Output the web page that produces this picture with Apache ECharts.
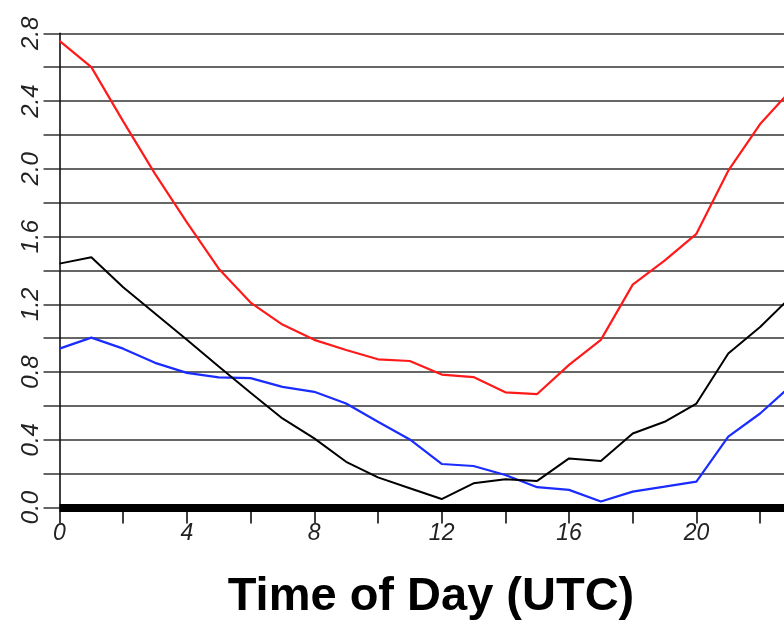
<!DOCTYPE html>
<html>
<head>
<meta charset="utf-8">
<script src="https://cdn.jsdelivr.net/npm/echarts@6/dist/echarts.min.js"></script>
<style>
html,body{margin:0;padding:0;background:#fff;}
#chart{width:784px;height:624px;}
</style>
</head>
<body>
<div id="chart"></div>
<script>
var hours = [0,1,2,3,4,5,6,7,8,9,10,11,12,13,14,15,16,17,18,19,20,21,22,23];
var redValues = [2.755,2.60,2.28,1.97,1.684,1.41,1.21,1.08,0.99,0.93,0.875,0.865,0.785,0.77,0.68,0.67,0.842,0.99,1.316,1.458,1.616,1.989,2.264,2.47];
var blackValues = [1.44,1.478,1.30,1.145,0.99,0.833,0.677,0.526,0.408,0.27,0.178,0.114,0.05,0.143,0.167,0.157,0.29,0.274,0.437,0.506,0.614,0.909,1.066,1.25];
var blueValues = [0.938,1.003,0.938,0.854,0.795,0.768,0.764,0.712,0.683,0.614,0.506,0.402,0.257,0.245,0.192,0.12,0.104,0.035,0.094,0.123,0.153,0.418,0.555,0.725];
var xTickValues = [0,2,4,6,8,10,12,14,16,18,20,22];
var xTickLabels = [0,4,8,12,16,20];
var yTickLabels = [0.0,0.4,0.8,1.2,1.6,2.0,2.4,2.8];
var xAxisTitle = 'Time of Day (UTC)';

function pairs(vals){ return hours.map(function(h,i){ return [h, vals[i]]; }); }

var chart = echarts.init(document.getElementById('chart'), null, {renderer:'canvas'});
chart.setOption({
  animation: false,
  backgroundColor: '#fff',
  grid: {left: 59.5, top: 33.3, right: 0, bottom: 116.5, containLabel: false},
  xAxis: {
    type: 'value', min: 0, max: 22.75,
    axisLine: {show: true, onZero: false, lineStyle: {color: '#000', width: 8, cap: 'butt'}},
    axisTick: {show: true, length: 16, customValues: xTickValues, lineStyle: {color: '#000', width: 1.5}},
    splitLine: {show: false},
    axisLabel: {
      margin: 15, fontSize: 23, fontStyle: 'italic', color: '#222',
      fontFamily: 'Liberation Sans, Arial, sans-serif',
      customValues: xTickLabels,
      formatter: function(v){ return String(Math.round(v)); }
    }
  },
  yAxis: {
    type: 'value', min: 0, max: 2.8, interval: 0.2,
    axisLine: {show: true, lineStyle: {color: '#000', width: 1.5}},
    axisTick: {show: true, length: 16, lineStyle: {color: '#333', width: 1.5}},
    splitLine: {show: true, lineStyle: {color: '#333', width: 1.5}},
    axisLabel: {
      rotate: 90, margin: 16, fontSize: 24, fontStyle: 'italic', color: '#222',
      fontFamily: 'Liberation Sans, Arial, sans-serif',
      formatter: function(v){
        for (var i=0;i<yTickLabels.length;i++){ if (Math.abs(v-yTickLabels[i])<1e-6) return yTickLabels[i].toFixed(1); }
        return '';
      }
    }
  },
  graphic: [{
    type: 'text', x: 431, y: 597,
    style: {text: xAxisTitle, fontSize: 47, fontWeight: 'bold', fontFamily: 'Liberation Sans, Arial, sans-serif', fill: '#000', align: 'center', verticalAlign: 'middle'}
  }],
  series: [
    {type: 'line', data: pairs(redValues), symbol: 'none', clip: true, lineStyle: {color: '#ff1a1a', width: 2.2}, z: 3},
    {type: 'line', data: pairs(blueValues), symbol: 'none', clip: true, lineStyle: {color: '#1a2cff', width: 2.2}, z: 3},
    {type: 'line', data: pairs(blackValues), symbol: 'none', clip: true, lineStyle: {color: '#000', width: 2}, z: 3}
  ]
});
</script>
</body>
</html>
